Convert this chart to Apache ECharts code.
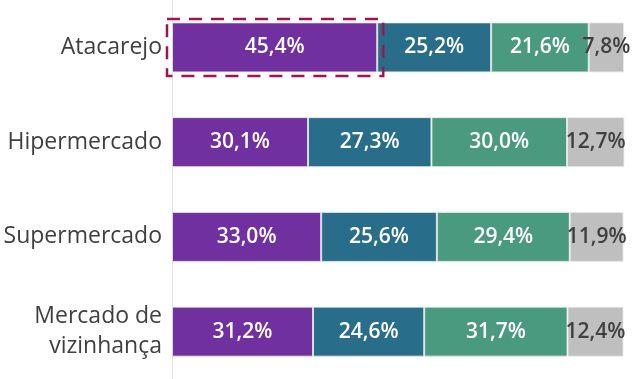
<!DOCTYPE html>
<html><head><meta charset="utf-8">
<script src="https://cdn.jsdelivr.net/npm/echarts@6/dist/echarts.min.js"></script>
<style>html,body{margin:0;padding:0;background:#fff}#c{width:640px;height:379px}</style>
</head><body><div id="c"></div>
<script>
const categories = ['Atacarejo', 'Hipermercado', 'Supermercado', 'Mercado de\nvizinhança'];
const seriesA = [45.4, 30.1, 33.0, 31.2];
const seriesB = [25.2, 27.3, 25.6, 24.6];
const seriesC = [21.6, 30.0, 29.4, 31.7];
const seriesD = [7.8, 12.7, 11.9, 12.4];
const highlightIndex = 0;

const colors = ['#7030A0', '#286E8B', '#4A9A80', '#BFBFBF'];
const fmt = p => p.value.toFixed(1).replace('.', ',') + '%';
function mk(name, data, color, labelColor) {
  return {
    name, type: 'bar', stack: 'total', data, barWidth: 50,
    itemStyle: { color, borderColor: 'rgba(235,235,235,0.8)', borderWidth: 1 },
    label: { show: true, position: 'inside', formatter: fmt, color: labelColor,
      fontFamily: 'Open Sans', fontWeight: 600, fontSize: 21 },
    emphasis: { disabled: true }
  };
}
const chart = echarts.init(document.getElementById('c'), null, { renderer: 'canvas' });
chart.setOption({
  animation: false,
  grid: { left: 172, right: 16, top: 0, bottom: 0 },
  xAxis: { type: 'value', min: 0, max: 100, show: false },
  yAxis: {
    type: 'category', data: categories, inverse: true,
    axisLine: { show: true, lineStyle: { color: '#E3E3E3', width: 1 } },
    axisTick: { show: false },
    axisLabel: { color: '#404040', fontFamily: 'Open Sans', fontSize: 23, lineHeight: 30, margin: 10, align: 'right' }
  },
  series: [
    mk('A', seriesA, colors[0], '#FFFFFF'),
    mk('B', seriesB, colors[1], '#FFFFFF'),
    mk('C', seriesC, colors[2], '#FFFFFF'),
    mk('D', seriesD, colors[3], '#404040'),
    {
      type: 'custom', silent: true, z: 10,
      data: [[seriesA[highlightIndex], highlightIndex]],
      renderItem: function (params, api) {
        const p0 = api.coord([0, api.value(1)]);
        const p1 = api.coord([api.value(0), api.value(1)]);
        const h = 57;
        return {
          type: 'rect',
          shape: { x: p0[0] - 5, y: p0[1] - h / 2, width: p1[0] - p0[0] + 11, height: h },
          style: { fill: 'none', stroke: '#A3124F', lineWidth: 2.5, lineDash: [13, 9] }
        };
      }
    }
  ]
});
</script></body></html>
